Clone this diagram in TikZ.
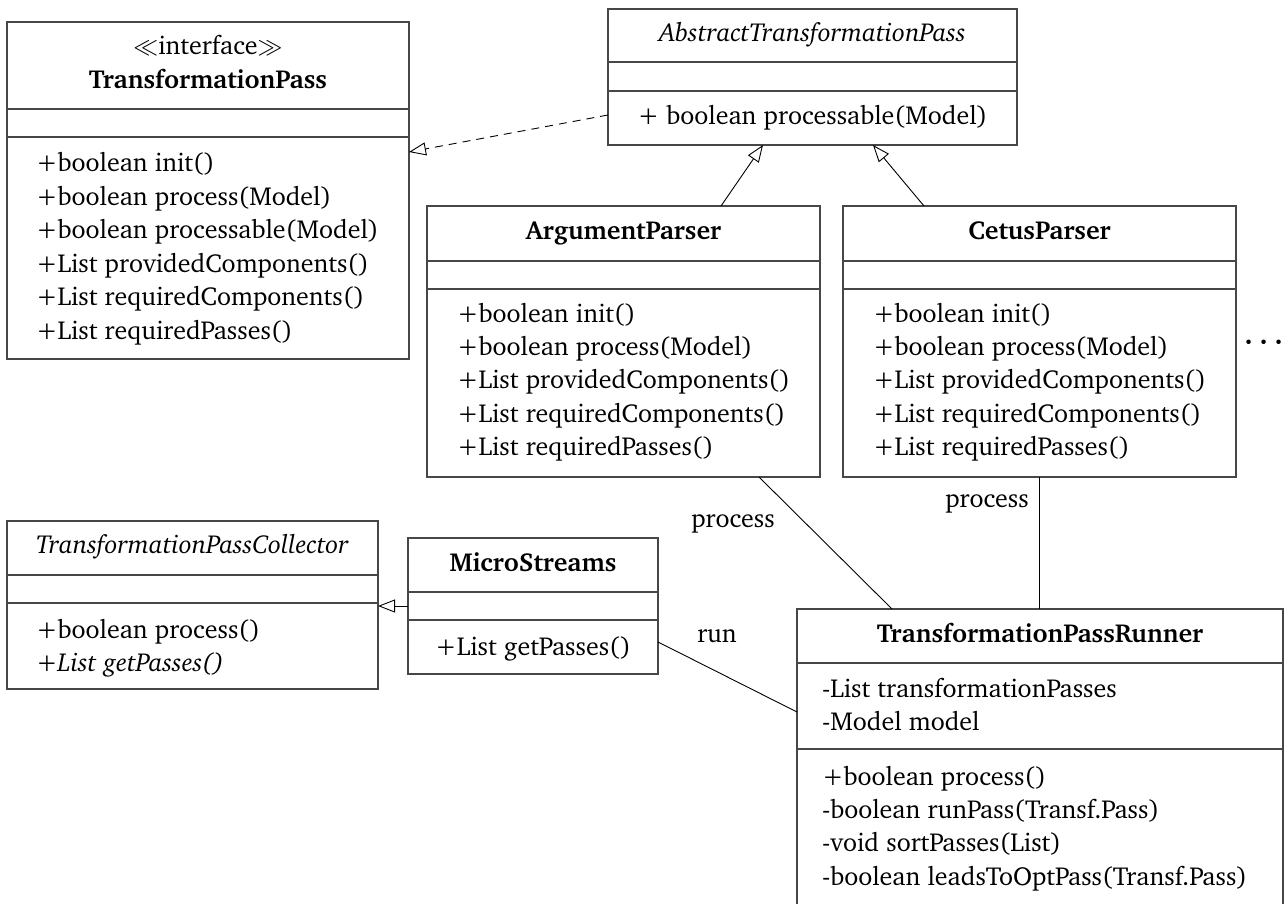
\documentclass[tikz,border=0pt]{standalone}
\usepackage[T1]{fontenc}
\usepackage{charter}
\usetikzlibrary{arrows.meta,calc}

% A class box: name, left, top, right, bottom, first divider, second divider
\newcommand\umlbox[7]{%
  \node[classbox, minimum width={#4-#2}, minimum height={#5-#3}] (#1) at ({(#2+#4)/2},{(#3+#5)/2}) {};
  \draw[classline] (#1.west |- 0,#6) -- (#1.east |- 0,#6);
  \draw[classline] (#1.west |- 0,#7) -- (#1.east |- 0,#7);}

% Left-aligned member lines: prefix, x, first baseline, list
\newcommand\members[4]{%
  \foreach \txt [count=\k] in {#4} {%
    \node[anchor=base west] (#1-\k) at (#2,{#3+(\k-1)*33.4}) {\txt};}}

% heavier centred ellipsis
\newcommand\heavydots{{\mathversion{bold}$\cdots$}}

\begin{document}
\begin{tikzpicture}[x=1pt,y=-1pt,
  every node/.style={font=\fontsize{26}{33.4}\selectfont, inner sep=0pt, outer sep=0pt},
  classbox/.style={draw=black!72, line width=1.3pt, rectangle},
  classline/.style={draw=black!72, line width=1.3pt},
  link/.style={draw=black, line width=0.9pt},
  inherit/.style={link, -{Triangle[open,length=17pt,width=13pt]}},
  realize/.style={inherit, dash pattern=on 8pt off 6pt}]

\useasboundingbox (0,0) rectangle (1285,904);

% interface
\umlbox{tp}{7}{22}{409}{359}{109}{137}
\node[anchor=base] (tp-st) at (208,55) {$\ll$interface$\gg$};
\node[anchor=base] (tp-name) at (208,89) {\textbf{TransformationPass}};
\members{tp}{36}{172}{+boolean init(),+boolean process(Model),+boolean processable(Model),+List providedComponents(),+List requiredComponents(),+List requiredPasses()}

% abstract base class
\umlbox{ab}{608}{9}{1017}{145}{62}{91}
\node[anchor=base] (ab-name) at (812.5,42) {\textit{AbstractTransformationPass}};
\node[anchor=base] (ab-m) at (812.5,125) {+ boolean processable(Model)};

% parsers
\umlbox{arg}{427}{206}{820}{477}{261}{289}
\node[anchor=base] (arg-name) at (623.5,240) {\textbf{ArgumentParser}};
\members{arg}{457}{322}{+boolean init(),+boolean process(Model),+List providedComponents(),+List requiredComponents(),+List requiredPasses()}

\umlbox{cet}{843}{206}{1236}{477}{261}{289}
\node[anchor=base] (cet-name) at (1039.5,240) {\textbf{CetusParser}};
\members{cet}{873}{322}{+boolean init(),+boolean process(Model),+List providedComponents(),+List requiredComponents(),+List requiredPasses()}

\node[anchor=base, scale=1.15] (more) at (1264,349) {\heavydots};

% collector
\umlbox{col}{7}{521}{378}{689}{575}{603}
\node[anchor=base] (col-name) at (192.5,553) {\textit{TransformationPassCollector}};
\members{col}{36}{638}{+boolean process(),\textit{+List getPasses()}}

\umlbox{ms}{408}{538}{658}{674}{592}{620}
\node[anchor=base] (ms-name) at (533,571) {\textbf{MicroStreams}};
\node[anchor=base] (ms-m) at (533,655) {+List getPasses()};

% runner
\umlbox{run}{797}{609}{1283}{915}{663}{749}
\node[anchor=base] (run-name) at (1040,642) {\textbf{TransformationPassRunner}};
\members{run-a}{822}{697}{-List transformationPasses,-Model model}
\members{run-m}{822}{785}{+boolean process(),-boolean runPass(Transf.Pass),-void sortPasses(List),-boolean leadsToOptPass(Transf.Pass)}

% relations
\draw[realize] ($(ab.north west)+(0,106)$) -- ($(tp.north east)+(0,130)$);
\draw[inherit] ($(arg.north west)+(294,0)$) -- ($(ab.south west)+(155,0)$);
\draw[inherit] ($(cet.north west)+(81,0)$) -- ($(ab.south west)+(265,0)$);
\draw[inherit] (ms.west) -- (col.east |- ms.west);

\draw[link] ($(arg.south west)+(332,0)$) -- ($(run.north west)+(95,0)$);
\draw[link] (cet.south) -- (cet.south |- run.north);
\draw[link] ($(ms.north east)+(0,104)$) -- ($(run.north west)+(0,103)$);

\node[anchor=base] (lbl-p1) at (733,527) {process};
\node[anchor=base] (lbl-p2) at (987,507) {process};
\node[anchor=base] (lbl-run) at (717,642) {run};

\end{tikzpicture}
\end{document}
